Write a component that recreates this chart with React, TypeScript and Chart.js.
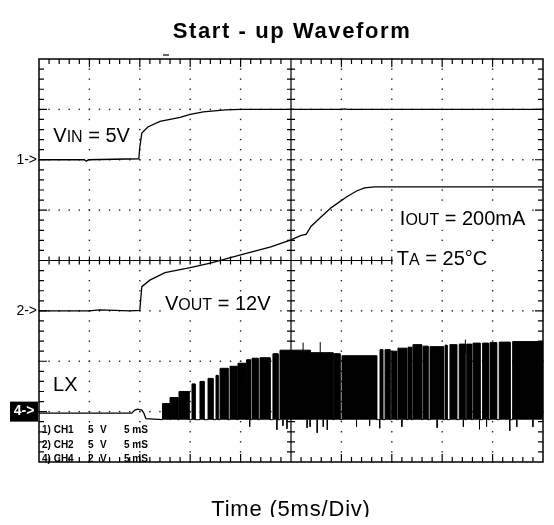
import React, { useEffect, useRef } from "react";
import { Chart, registerables } from "chart.js";

Chart.register(...registerables);

// Time axis in ms (5 ms / div, 10 div), vertical axis in divisions (-4..4)
const X_MIN = 0;
const X_MAX = 50;
const Y_MIN = -4;
const Y_MAX = 4;

// CH1: VIN (5 V/div), marker level 2
const vinT = [0, 4.5, 4.7, 4.9, 9.9, 10.0, 10.2, 10.8, 12.0, 14.0, 15.0, 16.3, 18.5, 20.0, 30.0, 30.3, 30.6, 50];
const vinV = [2.0, 2.0, 1.97, 2.0, 2.02, 2.25, 2.53, 2.65, 2.76, 2.84, 2.9, 2.95, 2.99, 3.0, 3.0, 3.01, 3.0, 3.0];

// CH2: VOUT (5 V/div), marker level -1
const voutT = [0, 5, 6, 9, 10.0, 10.1, 10.2, 11.0, 12.5, 15.0, 17.0, 20.0, 23.0, 25.0, 26.0, 26.5, 27.0, 28.0, 29.0, 30.5, 31.5, 32.3, 33.3, 50];
const voutV = [-1.0, -1.0, -0.98, -1.0, -0.99, -0.75, -0.52, -0.39, -0.24, -0.14, -0.05, 0.11, 0.27, 0.41, 0.5, 0.52, 0.68, 0.87, 1.05, 1.26, 1.38, 1.44, 1.46, 1.46];

// CH4: LX (2 V/div), marker level -3; idle part before switching
const lxIdleT = [0, 9.2, 9.5, 9.8, 10.2, 10.4, 10.6, 12.25];
const lxIdleV = [-3.03, -3.03, -2.97, -2.95, -2.97, -3.03, -3.14, -3.16];

// LX switching bursts: start (ms), end (ms), top level (div)
const lxStart = [12.25, 13.0, 13.89, 15.18, 15.97, 16.77, 17.56, 17.96, 18.95, 19.74, 20.63, 21.13, 21.92, 23.21, 23.91, 26.9, 29.27, 30.06, 33.83, 34.33, 34.99, 35.61, 36.61, 37.1, 38.1, 38.79, 40.28, 40.77, 41.69, 42.43, 43.06, 44.01, 44.74, 45.66, 46.99];
const lxEnd = [13.0, 13.79, 14.88, 15.48, 16.37, 17.26, 17.76, 18.75, 19.64, 20.54, 20.98, 21.73, 22.92, 23.71, 26.9, 29.17, 29.86, 33.5, 34.1, 34.82, 35.48, 36.48, 36.97, 37.96, 38.59, 40.11, 40.48, 41.44, 42.26, 42.92, 43.75, 44.57, 45.4, 46.73, 50];
const lxTop = [-2.84, -2.72, -2.6, -2.45, -2.4, -2.34, -2.28, -2.14, -2.1, -2.04, -1.97, -1.94, -1.93, -1.85, -1.78, -1.83, -1.85, -1.89, -1.77, -1.77, -1.8, -1.74, -1.72, -1.67, -1.7, -1.71, -1.68, -1.67, -1.66, -1.66, -1.64, -1.64, -1.63, -1.62, -1.61];
const LX_LOW = -3.16;

// LX ringing spikes: time (ms) and peak level (div)
const spikeT = [20.9, 23.6, 24.2, 24.6, 26.2, 26.6, 26.9, 27.6, 27.9, 28.2, 28.6, 31.5, 32.8, 33.8, 36.0, 39.5, 42.1, 42.3, 43.7, 44.4, 46.7, 47.4, 49.0];
const spikeV = [-3.3, -3.36, -3.28, -3.34, -1.63, -3.32, -3.3, -3.42, -1.62, -3.3, -3.36, -3.3, -3.28, -3.33, -3.3, -3.32, -3.3, -1.57, -3.35, -3.3, -3.38, -3.3, -3.3];

// Texts
const TITLE = "Start - up Waveform";
const X_LABEL = "Time (5ms/Div)";
const chName = ["1) CH1", "2) CH2", "4) CH4"];
const chVolts = ["5", "5", "2"];
const chUnit = ["V", "V", "V"];
const chTime = ["5 mS", "5 mS", "5 mS"];
const markerText = ["1->", "2->", "4->"];
const markerLevel = [2, -1, -3];

type Part = [string, number];
const annotations: { parts: Part[]; x: number; y: number; extendRight?: boolean }[] = [
  { parts: [["V", 20], ["IN", 16], [" = 5V", 20]], x: 1.42, y: 2.36 },
  { parts: [["I", 20], ["OUT", 16], [" = 200mA", 20]], x: 35.8, y: 0.71 },
  { parts: [["T", 20], ["A", 16], [" = 25°C", 20]], x: 35.5, y: -0.09, extendRight: true },
  { parts: [["V", 20], ["OUT", 16], [" = 12V", 20]], x: 12.5, y: -0.99 },
  { parts: [["LX", 20]], x: 1.39, y: -2.59 },
];

const FONT = '"Liberation Sans", Arial, Helvetica, sans-serif';

function buildLx() {
  const pts: { x: number; y: number }[] = [];
  for (let i = 0; i < lxStart.length; i++) {
    pts.push({ x: lxStart[i], y: LX_LOW });
    pts.push({ x: lxStart[i], y: lxTop[i] });
    pts.push({ x: lxEnd[i], y: lxTop[i] });
    pts.push({ x: lxEnd[i], y: LX_LOW });
  }
  return pts;
}

function buildSpikes() {
  const pts: { x: number; y: number | null }[] = [];
  for (let i = 0; i < spikeT.length; i++) {
    const from = spikeV[i] < LX_LOW ? LX_LOW : spikeV[i] - 0.3;
    pts.push({ x: spikeT[i], y: from });
    pts.push({ x: spikeT[i], y: spikeV[i] });
    pts.push({ x: spikeT[i] + 0.001, y: null });
  }
  return pts;
}

const zip = (t: number[], v: number[]) => t.map((x, i) => ({ x, y: v[i] }));

const scopePlugin = {
  id: "scope",
  beforeDatasetsDraw(chart: any) {
    const { ctx, chartArea: a, scales } = chart;
    const xs = scales.x;
    const ys = scales.y;
    ctx.save();
    ctx.fillStyle = "#fff";
    ctx.fillRect(a.left, a.top, a.right - a.left, a.bottom - a.top);

    // dotted grid
    ctx.fillStyle = "#222";
    for (let i = 1; i < 10; i++) {
      if (i === 5) continue;
      const px = xs.getPixelForValue(i * 5);
      for (let k = 0; k <= 40; k++) {
        const py = ys.getPixelForValue(Y_MIN + k * 0.2);
        ctx.fillRect(px - 0.7, py - 0.7, 1.4, 1.4);
      }
    }
    for (let j = 1; j < 8; j++) {
      if (j === 4) continue;
      const py = ys.getPixelForValue(Y_MIN + j);
      for (let k = 0; k <= 50; k++) {
        const px = xs.getPixelForValue(k);
        ctx.fillRect(px - 0.7, py - 0.7, 1.4, 1.4);
      }
    }

    ctx.strokeStyle = "#000";
    ctx.lineWidth = 1.2;
    ctx.beginPath();
    // border ticks top/bottom
    for (let k = 1; k < 50; k++) {
      const px = xs.getPixelForValue(k);
      const len = k % 5 === 0 ? 8 : 5;
      ctx.moveTo(px, a.top);
      ctx.lineTo(px, a.top + len);
      ctx.moveTo(px, a.bottom);
      ctx.lineTo(px, a.bottom - len);
    }
    for (let k = 1; k < 40; k++) {
      const py = ys.getPixelForValue(Y_MIN + k * 0.2);
      const len = k % 5 === 0 ? 8 : 5;
      ctx.moveTo(a.left, py);
      ctx.lineTo(a.left + len, py);
      ctx.moveTo(a.right, py);
      ctx.lineTo(a.right - len, py);
    }
    // center crosshair
    const cx = xs.getPixelForValue(25);
    const cy = ys.getPixelForValue(0);
    ctx.moveTo(cx, a.top);
    ctx.lineTo(cx, a.bottom);
    ctx.moveTo(a.left, cy);
    ctx.lineTo(a.right, cy);
    for (let k = 1; k < 40; k++) {
      const py = ys.getPixelForValue(Y_MIN + k * 0.2);
      ctx.moveTo(cx - 4, py);
      ctx.lineTo(cx + 4, py);
    }
    for (let k = 1; k < 50; k++) {
      const px = xs.getPixelForValue(k);
      ctx.moveTo(px, cy - 4);
      ctx.lineTo(px, cy + 4);
    }
    ctx.stroke();

    // trigger mark above the top border
    ctx.beginPath();
    ctx.moveTo(xs.getPixelForValue(12.3), a.top - 4);
    ctx.lineTo(xs.getPixelForValue(12.9), a.top - 4);
    ctx.stroke();

    // annotation boxes (white background)
    for (const an of annotations) {
      const x0 = xs.getPixelForValue(an.x);
      const y0 = ys.getPixelForValue(an.y);
      let w = 0;
      for (const [t, s] of an.parts) {
        ctx.font = `${s}px ${FONT}`;
        w += ctx.measureText(t).width;
      }
      const right = an.extendRight ? a.right - 2 : x0 + w + 4;
      ctx.fillStyle = "#fff";
      ctx.fillRect(x0 - 4, y0 - 18, right - (x0 - 4), 23);
    }
    ctx.restore();
  },
  afterDatasetsDraw(chart: any) {
    const { ctx, chartArea: a, scales } = chart;
    const xs = scales.x;
    const ys = scales.y;
    ctx.save();
    // outer border
    ctx.strokeStyle = "#000";
    ctx.lineWidth = 1.5;
    ctx.strokeRect(a.left, a.top, a.right - a.left, a.bottom - a.top);

    ctx.fillStyle = "#000";
    ctx.textBaseline = "alphabetic";
    ctx.textAlign = "left";
    for (const an of annotations) {
      let x = xs.getPixelForValue(an.x);
      const y = ys.getPixelForValue(an.y);
      for (const [t, s] of an.parts) {
        ctx.font = `${s}px ${FONT}`;
        ctx.fillText(t, x, y);
        x += ctx.measureText(t).width;
      }
    }

    // channel settings
    ctx.font = `bold 10px ${FONT}`;
    for (let i = 0; i < chName.length; i++) {
      const y = a.bottom - 29 + i * 14.7;
      ctx.fillText(chName[i], a.left + 3, y);
      ctx.fillText(chVolts[i], a.left + 49, y);
      ctx.fillText(chUnit[i], a.left + 61, y);
      ctx.fillText(chTime[i], a.left + 85, y);
    }

    // channel markers
    ctx.textBaseline = "middle";
    for (let i = 0; i < markerText.length; i++) {
      const y = ys.getPixelForValue(markerLevel[i]);
      if (i === 2) {
        ctx.fillStyle = "#000";
        ctx.fillRect(a.left - 29, y - 10, 28, 20);
        ctx.fillStyle = "#fff";
        ctx.font = `bold 14px ${FONT}`;
        ctx.textAlign = "center";
        ctx.fillText(markerText[i], a.left - 15, y);
      } else {
        ctx.fillStyle = "#000";
        ctx.font = `14px ${FONT}`;
        ctx.textAlign = "right";
        ctx.fillText(markerText[i], a.left - 2, y);
      }
    }

    // title and x label
    ctx.fillStyle = "#000";
    ctx.textAlign = "center";
    ctx.textBaseline = "alphabetic";
    const mid = (a.left + a.right) / 2;
    ctx.font = `bold 22px ${FONT}`;
    try {
      (ctx as any).letterSpacing = "1.6px";
    } catch (e) {}
    ctx.fillText(TITLE, mid + 1, a.top - 21);
    ctx.font = `22px ${FONT}`;
    try {
      (ctx as any).letterSpacing = "0.8px";
    } catch (e) {}
    ctx.fillText(X_LABEL, mid, a.bottom + 54);
    ctx.restore();
  },
};

export default function App() {
  const ref = useRef<HTMLCanvasElement>(null);
  useEffect(() => {
    const base = { borderColor: "#000", pointRadius: 0, tension: 0 };
    const chart = new Chart(ref.current as HTMLCanvasElement, {
      type: "line",
      data: {
        datasets: [
          { ...base, label: "VIN", data: zip(vinT, vinV), borderWidth: 1.3, fill: false },
          { ...base, label: "VOUT", data: zip(voutT, voutV), borderWidth: 1.3, fill: false },
          { ...base, label: "LX idle", data: zip(lxIdleT, lxIdleV), borderWidth: 1.3, fill: false },
          {
            ...base,
            label: "LX",
            data: buildLx(),
            backgroundColor: "#000",
            borderWidth: 1,
            fill: { value: LX_LOW },
          },
          {
            ...base,
            label: "LX spikes",
            data: buildSpikes() as any,
            borderWidth: 1,
            spanGaps: false,
            fill: false,
          },
        ],
      },
      options: {
        animation: false,
        responsive: true,
        maintainAspectRatio: false,
        layout: { padding: { left: 31, right: 3, top: 51, bottom: 55 } },
        plugins: {
          legend: { display: false },
          tooltip: { enabled: false },
          title: { display: false },
        },
        scales: {
          x: { type: "linear", min: X_MIN, max: X_MAX, display: false },
          y: { type: "linear", min: Y_MIN, max: Y_MAX, display: false },
        },
      },
      plugins: [scopePlugin],
    });
    return () => chart.destroy();
  }, []);
  return (
    <div style={{ width: 538, height: 509, position: "relative" }}>
      <canvas ref={ref} />
    </div>
  );
}
